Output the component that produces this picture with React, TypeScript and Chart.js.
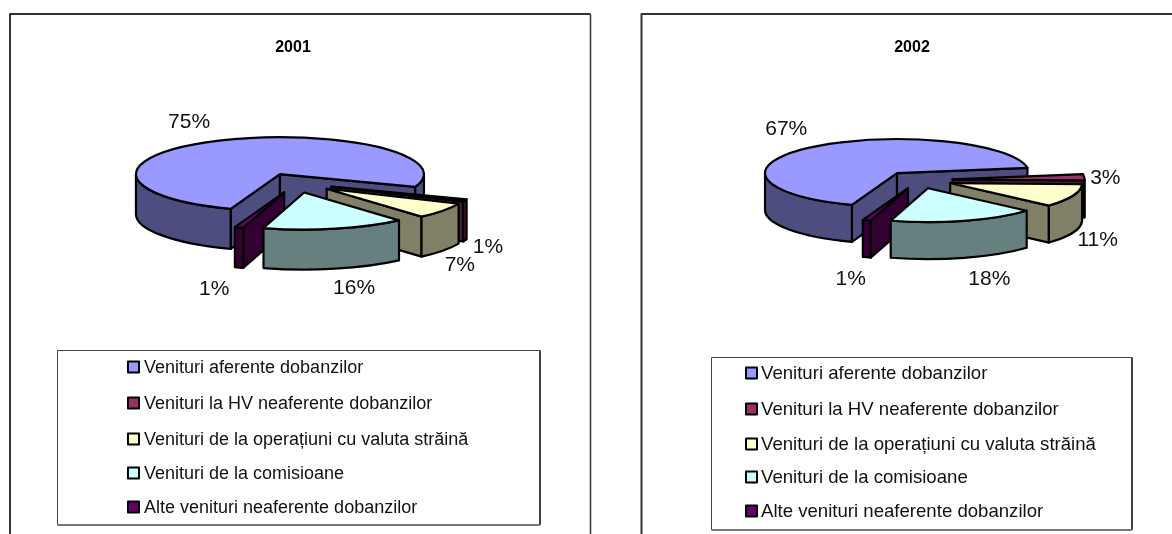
import React, { useEffect, useRef } from "react";
import { Chart, registerables } from "chart.js";

Chart.register(...registerables);

const CATEGORIES = [
  "Venituri aferente dobanzilor",
  "Venituri la HV neaferente dobanzilor",
  "Venituri de la operațiuni cu valuta străină",
  "Venituri de la comisioane",
  "Alte venituri neaferente dobanzilor",
];
const VALUES_2001 = [75, 1, 7, 16, 1];
const VALUES_2002 = [67, 3, 11, 18, 1];
const TOP_COLORS = ["#9999FF", "#993366", "#FFFFCC", "#CCFFFF", "#660066"];
const SIDE_COLORS = ["#4D4D80", "#4D1A33", "#808066", "#668080", "#330033"];
const PAINT_ORDER = [0, 1, 2, 4, 3];
const FONT = '"Liberation Sans", Arial, sans-serif';
const INK = "#000000";
const SQUASH = 0.257;

const LAYOUT_2001 = {
  title: "2001", titleX: 293, titleY: 48,
  left: 0, w: 600, cx: 296, cy: 183, r: 144, explode: 38, depth: 40,
  box: [10, 14, 590.5],
  legend: { x: 57, y: 350, w: 483, h: 175, swatchX: 128, textX: 144, size: 18, rows: [367, 403, 439, 473, 507] },
  labelShift: [[-30, -18], [23, 47], [17, 55], [19, 60], [-25, 62]],
};
const LAYOUT_2002 = {
  title: "2002", titleX: 312, titleY: 48,
  left: 600, w: 572, cx: 318.6, cy: 179.8, r: 132, explode: 34, depth: 37,
  box: [41.5, 14, 590],
  legend: { x: 111, y: 357, w: 421, h: 173, swatchX: 146, textX: 161, size: 18.6, rows: [373, 409, 444, 477, 511] },
  labelShift: [[-27, -18], [21, 1], [25, 45], [25, 58], [-16, 59]],
};

const pie3d = {
  id: "pie3d",
  beforeDatasetsDraw(chart: any, _args: any, opts: any) {
    const { ctx } = chart;
    const L = opts.layout;
    const arcs = chart.getDatasetMeta(0).data;
    const values = chart.data.datasets[0].data;
    ctx.save();
    ctx.lineJoin = "round";

    // frame, open at the bottom of the page
    ctx.strokeStyle = "#333";
    ctx.lineWidth = 2;
    ctx.beginPath();
    ctx.moveTo(L.box[0], chart.height + 5);
    ctx.lineTo(L.box[0], L.box[1]);
    ctx.lineTo(L.box[2], L.box[1]);
    ctx.stroke();
    ctx.lineWidth = 1.5;
    ctx.beginPath();
    ctx.moveTo(L.box[2], L.box[1]);
    ctx.lineTo(L.box[2], chart.height + 5);
    ctx.stroke();

    ctx.strokeStyle = INK;
    ctx.lineWidth = 2.2;
    PAINT_ORDER.forEach((i: number) => {
      const el = arcs[i];
      const a0 = el.startAngle;
      const a1 = el.endAngle;
      const mid = (a0 + a1) / 2;
      const R = el.outerRadius;
      const Ry = R * SQUASH;
      const x = el.x + L.explode * Math.cos(mid);
      const y = el.y + L.explode * Math.sin(mid) * SQUASH;
      const d = L.depth;
      const px = (a: number) => x + R * Math.cos(a);
      const py = (a: number) => y + Ry * Math.sin(a);

      const paint = (fill: string) => {
        ctx.fillStyle = fill;
        ctx.fill();
        ctx.stroke();
      };
      const radial = (a: number) => {
        ctx.beginPath();
        ctx.moveTo(x, y);
        ctx.lineTo(px(a), py(a));
        ctx.lineTo(px(a), py(a) + d);
        ctx.lineTo(x, y + d);
        ctx.closePath();
        paint(SIDE_COLORS[i]);
      };
      // flat side walls that face the viewer
      if (Math.sin(a0 - Math.PI / 2) > 0) radial(a0);
      if (Math.sin(a1 + Math.PI / 2) > 0) radial(a1);
      // rim, only its front half
      for (let k = -1; k <= 2; k++) {
        const s = Math.max(a0, 2 * k * Math.PI);
        const e = Math.min(a1, 2 * k * Math.PI + Math.PI);
        if (e <= s) continue;
        ctx.beginPath();
        ctx.moveTo(px(s), py(s));
        ctx.ellipse(x, y, R, Ry, 0, s, e);
        ctx.lineTo(px(e), py(e) + d);
        ctx.ellipse(x, y + d, R, Ry, 0, e, s, true);
        ctx.closePath();
        paint(SIDE_COLORS[i]);
      }
      // top
      ctx.beginPath();
      ctx.moveTo(x, y);
      ctx.ellipse(x, y, R, Ry, 0, a0, a1);
      ctx.closePath();
      paint(TOP_COLORS[i]);
    });

    // percentage labels
    ctx.fillStyle = "#111";
    ctx.textAlign = "center";
    ctx.textBaseline = "middle";
    ctx.font = `21px ${FONT}`;
    arcs.forEach((el: any, i: number) => {
      const mid = (el.startAngle + el.endAngle) / 2;
      const reach = el.outerRadius + L.explode;
      const lx = el.x + reach * Math.cos(mid) + L.labelShift[i][0];
      const ly = el.y + reach * Math.sin(mid) * SQUASH + L.labelShift[i][1];
      ctx.fillText(`${values[i]}%`, lx, ly);
    });

    // title
    ctx.fillStyle = INK;
    ctx.font = `bold 16px ${FONT}`;
    ctx.fillText(L.title, L.titleX, L.titleY);

    // legend: dark top and left, black right, grey bottom
    const G = L.legend;
    const line = (color: string, width: number, x0: number, y0: number, x1: number, y1: number) => {
      ctx.strokeStyle = color;
      ctx.lineWidth = width;
      ctx.beginPath();
      ctx.moveTo(x0, y0);
      ctx.lineTo(x1, y1);
      ctx.stroke();
    };
    const gx0 = G.x + 0.5, gy0 = G.y + 0.5, gx1 = G.x + G.w, gy1 = G.y + G.h;
    line("#444", 1, gx0, gy0, gx1, gy0);
    line("#444", 1, gx0, gy0, gx0, gy1);
    line("#000", 1.5, gx1, gy0, gx1, gy1);
    line("#777", 2, gx0, gy1, gx1, gy1);

    ctx.textAlign = "left";
    ctx.font = `${G.size}px ${FONT}`;
    chart.data.labels.forEach((label: string, i: number) => {
      const ry = G.rows[i];
      ctx.fillStyle = TOP_COLORS[i];
      ctx.strokeStyle = INK;
      ctx.lineWidth = 2;
      ctx.fillRect(G.swatchX, ry - 5.5, 11, 11);
      ctx.strokeRect(G.swatchX, ry - 5.5, 11, 11);
      ctx.fillStyle = "#111";
      ctx.fillText(label, G.textX, ry + 1);
    });
    ctx.restore();
    return false;
  },
};

function Pie({ values, layout }: { values: number[]; layout: typeof LAYOUT_2001 }) {
  const ref = useRef<HTMLCanvasElement | null>(null);
  useEffect(() => {
    const H = 534;
    const chart = new Chart(ref.current as HTMLCanvasElement, {
      type: "pie",
      data: {
        labels: CATEGORIES,
        datasets: [{ data: values, backgroundColor: TOP_COLORS, borderWidth: 0, hoverBorderWidth: 0 }],
      },
      options: {
        responsive: false,
        animation: false,
        rotation: 200,
        layout: {
          padding: {
            left: layout.cx - layout.r,
            right: layout.w - layout.cx - layout.r,
            top: layout.cy - layout.r,
            bottom: H - layout.cy - layout.r,
          },
        },
        plugins: {
          legend: { display: false },
          title: { display: false },
          tooltip: { enabled: false },
          pie3d: { layout },
        },
      } as any,
      plugins: [pie3d],
    });
    return () => chart.destroy();
  }, [values, layout]);
  return (
    <canvas
      ref={ref}
      width={layout.w}
      height={534}
      style={{ position: "absolute", left: layout.left, top: 0, width: layout.w, height: 534 }}
    />
  );
}

export default function App() {
  return (
    <div style={{ position: "fixed", left: 0, top: 0, width: 1172, height: 534, overflow: "hidden", background: "#fff" }}>
      <Pie values={VALUES_2001} layout={LAYOUT_2001} />
      <Pie values={VALUES_2002} layout={LAYOUT_2002} />
    </div>
  );
}
